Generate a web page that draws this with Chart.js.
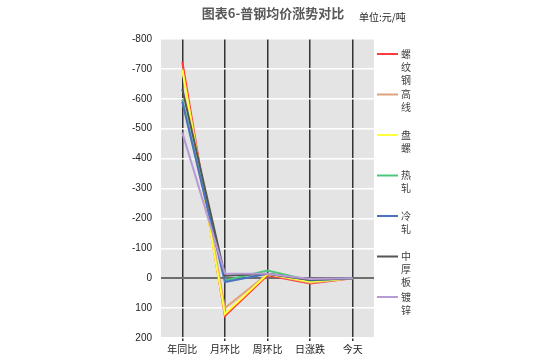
<!DOCTYPE html>
<html>
<head>
<meta charset="utf-8">
<script src="https://cdn.jsdelivr.net/npm/chart.js@4/dist/chart.umd.min.js"></script>
<style>
  body { margin: 0; background: #fff; }
  #wrap { width: 555px; height: 362px; position: relative; }
</style>
</head>
<body>
<div id="wrap"><canvas id="chart"></canvas></div>
<script>
// Catégories et séries
const categories = ["年同比", "月环比", "周环比", "日涨跌", "今天"];
const seriesNames = ["螺纹钢", "高线", "盘螺", "热轧", "冷轧", "中厚板", "镀锌"];
const luowengang = [-724, 126, -10, 18, 0];
const gaoxian    = [-700, 100, -14, 15, 0];
const panluo     = [-697, 120, -14, 12, 0];
const rezha      = [-597, 8, -26, 8, 0];
const lengzha    = [-590, 13, -15, 6, 0];
const zhonghouban = [-633, -8, -15, 5, 0];
const duxin      = [-487, -16, -15, 3, 0];
const seriesValues = [luowengang, gaoxian, panluo, rezha, lengzha, zhonghouban, duxin];
const seriesColors = ["#FF3B3B", "#DFA27C", "#FFFF3A", "#4CC87A", "#4A72C0", "#555555", "#B79AD6"];

// Axe Y (inversé)
const yMin = -800;
const yMax = 200;
const yStep = 100;

const FONT = '"Liberation Sans", "Noto Sans CJK SC", sans-serif';

// Fond gris + titre + légende verticale
const decor = {
    id: 'decor',
    beforeDraw(chart) {
        const { ctx, chartArea: a } = chart;
        ctx.save();
        ctx.fillStyle = '#E4E4E4';
        ctx.fillRect(a.left, a.top, a.right - a.left, a.bottom - a.top);
        ctx.restore();
    },
    afterDraw(chart) {
        const ctx = chart.ctx;
        ctx.save();
        // Titre
        ctx.fillStyle = '#595959';
        ctx.font = 'bold 13px "Noto Sans CJK SC", sans-serif';
        ctx.textAlign = 'center';
        ctx.textBaseline = 'middle';
        ctx.fillText('图表6-普钢均价涨势对比', 273, 13);
        ctx.fillStyle = '#222';
        ctx.font = '10px "Noto Sans CJK SC", sans-serif';
        ctx.textAlign = 'left';
        ctx.fillText('单位:元/吨', 359, 17);

        // Légende, un caractère par ligne
        chart.data.datasets.forEach((ds, i) => {
            const y = 54 + i * 40.5;
            ctx.strokeStyle = ds.borderColor;
            ctx.lineWidth = 2;
            ctx.beginPath();
            ctx.moveTo(377, y);
            ctx.lineTo(398, y);
            ctx.stroke();
            ctx.fillStyle = '#404040';
            ctx.font = '10px "Noto Sans CJK SC", sans-serif';
            ctx.textAlign = 'center';
            [...ds.label].forEach((ch, k) => {
                ctx.fillText(ch, 406, y + k * 13);
            });
        });
        ctx.restore();
    }
};

new Chart(document.getElementById('chart'), {
    type: 'line',
    data: {
        labels: categories,
        datasets: seriesNames.map((name, i) => ({
            label: name,
            data: seriesValues[i],
            borderColor: seriesColors[i],
            backgroundColor: seriesColors[i],
            borderWidth: 2,
            pointRadius: 0,
            tension: 0,
            fill: false,
            order: seriesNames.length - i
        }))
    },
    options: {
        responsive: true,
        maintainAspectRatio: false,
        animation: false,
        layout: { padding: { top: 39, right: 181, left: 0, bottom: 0 } },
        plugins: {
            legend: { display: false },
            title: { display: false },
            tooltip: { enabled: false }
        },
        scales: {
            x: {
                offset: true,
                grid: {
                    offset: false,
                    color: '#333',
                    lineWidth: 1.5,
                    drawTicks: true,
                    tickLength: 3
                },
                border: { display: false },
                ticks: {
                    color: '#222',
                    font: { size: 10, family: FONT },
                    padding: 3,
                    maxRotation: 0
                },
                afterFit(scale) { scale.height = 24; }
            },
            y: {
                min: yMin,
                max: yMax,
                reverse: true,
                border: { display: false },
                grid: {
                    drawTicks: false,
                    color: ctx => ctx.tick && ctx.tick.value === 0 ? '#6E6E6E' : '#FFFFFF',
                    lineWidth: ctx => ctx.tick && ctx.tick.value === 0 ? 2 : 1.5
                },
                ticks: {
                    stepSize: yStep,
                    color: '#222',
                    padding: 9,
                    font: { size: 10, family: FONT }
                },
                afterFit(scale) { scale.width = 161; }
            }
        }
    },
    plugins: [decor]
});
</script>
</body>
</html>
